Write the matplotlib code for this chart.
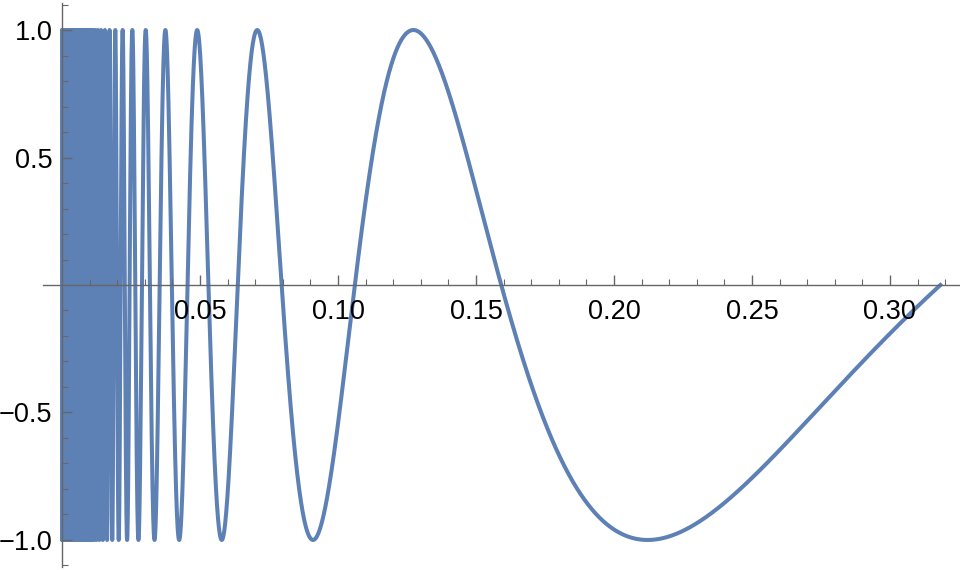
import numpy as np
import matplotlib
matplotlib.use("Agg")
import matplotlib.pyplot as plt
from matplotlib.ticker import FixedLocator

# Data: the plotted curve is y = sin(1/x) on (0, 1/pi]
x_min = 1e-5
x_max = 1 / np.pi
n_samples = 400000
x_major_ticks = [0.05, 0.10, 0.15, 0.20, 0.25, 0.30]
x_major_labels = ["0.05", "0.10", "0.15", "0.20", "0.25", "0.30"]
y_major_ticks = [-1.0, -0.5, 0.5, 1.0]
y_major_labels = ["\u22121.0", "\u22120.5", "0.5", "1.0"]

x = np.linspace(x_min, x_max, n_samples)
y = np.sin(1 / x)

plt.rcParams['font.family'] = ['Liberation Sans', 'DejaVu Sans']
fig = plt.figure(figsize=(9.6, 5.7), dpi=100)
ax = fig.add_axes([43 / 960, 3 / 570, (960 - 43) / 960, 564 / 570])
ax.set_axisbelow(False)
ax.plot(x, y, color="#5E81B5", lw=2.9, solid_joinstyle="round", zorder=1)

ax.set_xlim(-0.0069, 0.3254)
ax.set_ylim(-1.106, 1.106)

for s in ["top", "right"]:
    ax.spines[s].set_visible(False)
ax.spines["left"].set_position(("data", 0))
ax.spines["bottom"].set_position(("data", 0))
for s in ["left", "bottom"]:
    ax.spines[s].set_color("#666666")
    ax.spines[s].set_linewidth(1.0)
    ax.spines[s].set_zorder(3)

ax.xaxis.set_major_locator(FixedLocator(x_major_ticks))
ax.set_xticklabels(x_major_labels)
ax.xaxis.set_minor_locator(FixedLocator([i / 100 for i in range(1, 33)]))
ax.yaxis.set_major_locator(FixedLocator(y_major_ticks))
ax.set_yticklabels(y_major_labels)
ax.yaxis.set_minor_locator(FixedLocator([i / 10 for i in range(-11, 12) if i != 0]))

ax.tick_params(axis="both", which="both", direction="in", color="#666666",
               labelsize=19.5, labelcolor="black")
ax.tick_params(axis="both", which="major", length=7.5, width=1.0)
ax.tick_params(axis="both", which="minor", length=4.5, width=0.8)
ax.tick_params(axis="x", which="major", pad=10)
ax.tick_params(axis="y", which="major", pad=7)

fig.savefig("out.png", dpi=100)
